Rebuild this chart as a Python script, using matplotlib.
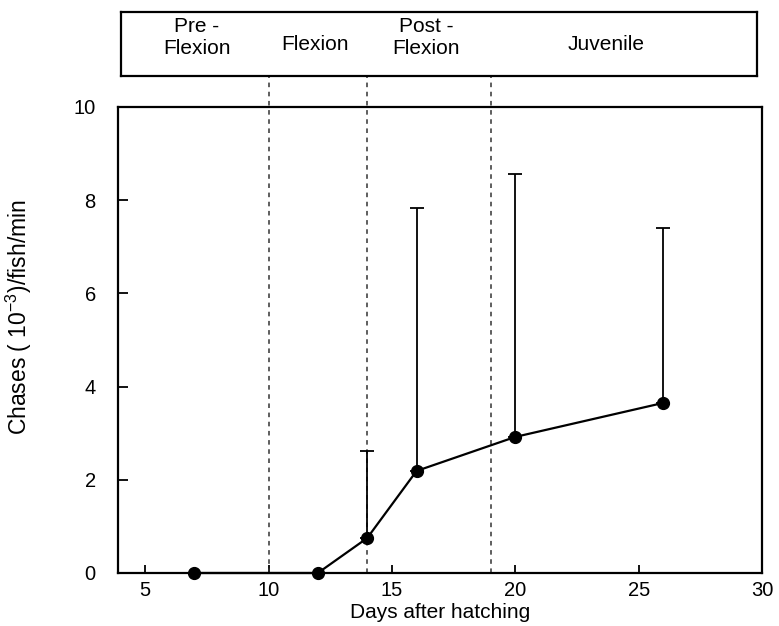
import matplotlib
matplotlib.use("Agg")
import matplotlib.pyplot as plt

plt.rcParams['font.family'] = ['Liberation Sans', 'DejaVu Sans']
plt.rcParams['mathtext.fontset'] = 'custom'
plt.rcParams['mathtext.rm'] = 'Liberation Sans'
plt.rcParams['mathtext.it'] = 'Liberation Sans'

# data
days = [7, 12, 14, 16, 20, 26]
chases = [0.0, 0.0, 0.75, 2.19, 2.92, 3.65]
upper = [0.0, 0.0, 2.62, 7.83, 8.56, 7.40]   # top of error bar

stage_bounds = [10, 14, 19]
stage_names = ["Pre -\nFlexion", "Flexion", "Post -\nFlexion", "Juvenile"]
stage_xpos = [7.1, 11.9, 16.4, 23.7]
stage_ypos = [0.6, 0.5, 0.6, 0.5]

xticks = [5, 10, 15, 20, 25, 30]
yticks = [0, 2, 4, 6, 8, 10]

W, H = 779, 626
fig = plt.figure(figsize=(W / 100, H / 100), dpi=100)

# main plot
ax = fig.add_axes([118 / W, (H - 573) / H, (762 - 118) / W, (573 - 107) / H])
xmin, xmax = 3.9, 30.0
ax.set_xlim(xmin, xmax)
ax.set_ylim(0, 10)

yerr = [[0] * len(days), [u - c for u, c in zip(upper, chases)]]
ax.errorbar(days, chases, yerr=yerr, fmt='o-', color='black', ms=8.5,
            lw=1.6, elinewidth=1.3, capsize=5, capthick=1.3, zorder=3,
            clip_on=False)

# dashed stage lines run from the bottom up through the stage box
ytop = (573 - 12) / ((573 - 107) / 10)
for b in stage_bounds:
    ax.plot([b, b], [0, ytop], ls=(0, (3, 3)), color='#333333', lw=1.1,
            clip_on=False, zorder=2)

ax.set_xticks(xticks)
ax.set_yticks(yticks)
ax.tick_params(direction='in', width=1.3, labelsize=14.5)
ax.tick_params(axis='x', length=6, pad=6)
ax.tick_params(axis='y', length=7, pad=16)
for s in ax.spines.values():
    s.set_linewidth(1.6)
ax.set_xlabel("Days after hatching", fontsize=15, labelpad=2)
ax.set_ylabel("Chases ( 10$^{-3}$)/fish/min", fontsize=16.5)
ax.yaxis.set_label_coords(-0.13, 0.55)

# stage box on top
px = (762 - 118) / (xmax - xmin)
bx = fig.add_axes([121 / W, (H - 76) / H, (757 - 121) / W, (76 - 12) / H])
bx.set_xlim(xmin + 3 / px, xmin + (757 - 118) / px)
bx.set_ylim(0, 1)
bx.set_xticks([])
bx.set_yticks([])
for s in bx.spines.values():
    s.set_linewidth(1.6)
for name, xp, yp in zip(stage_names, stage_xpos, stage_ypos):
    bx.text(xp, yp, name, ha='center', va='center', fontsize=15,
            linespacing=1.2)

fig.savefig("out.png", dpi=100)
